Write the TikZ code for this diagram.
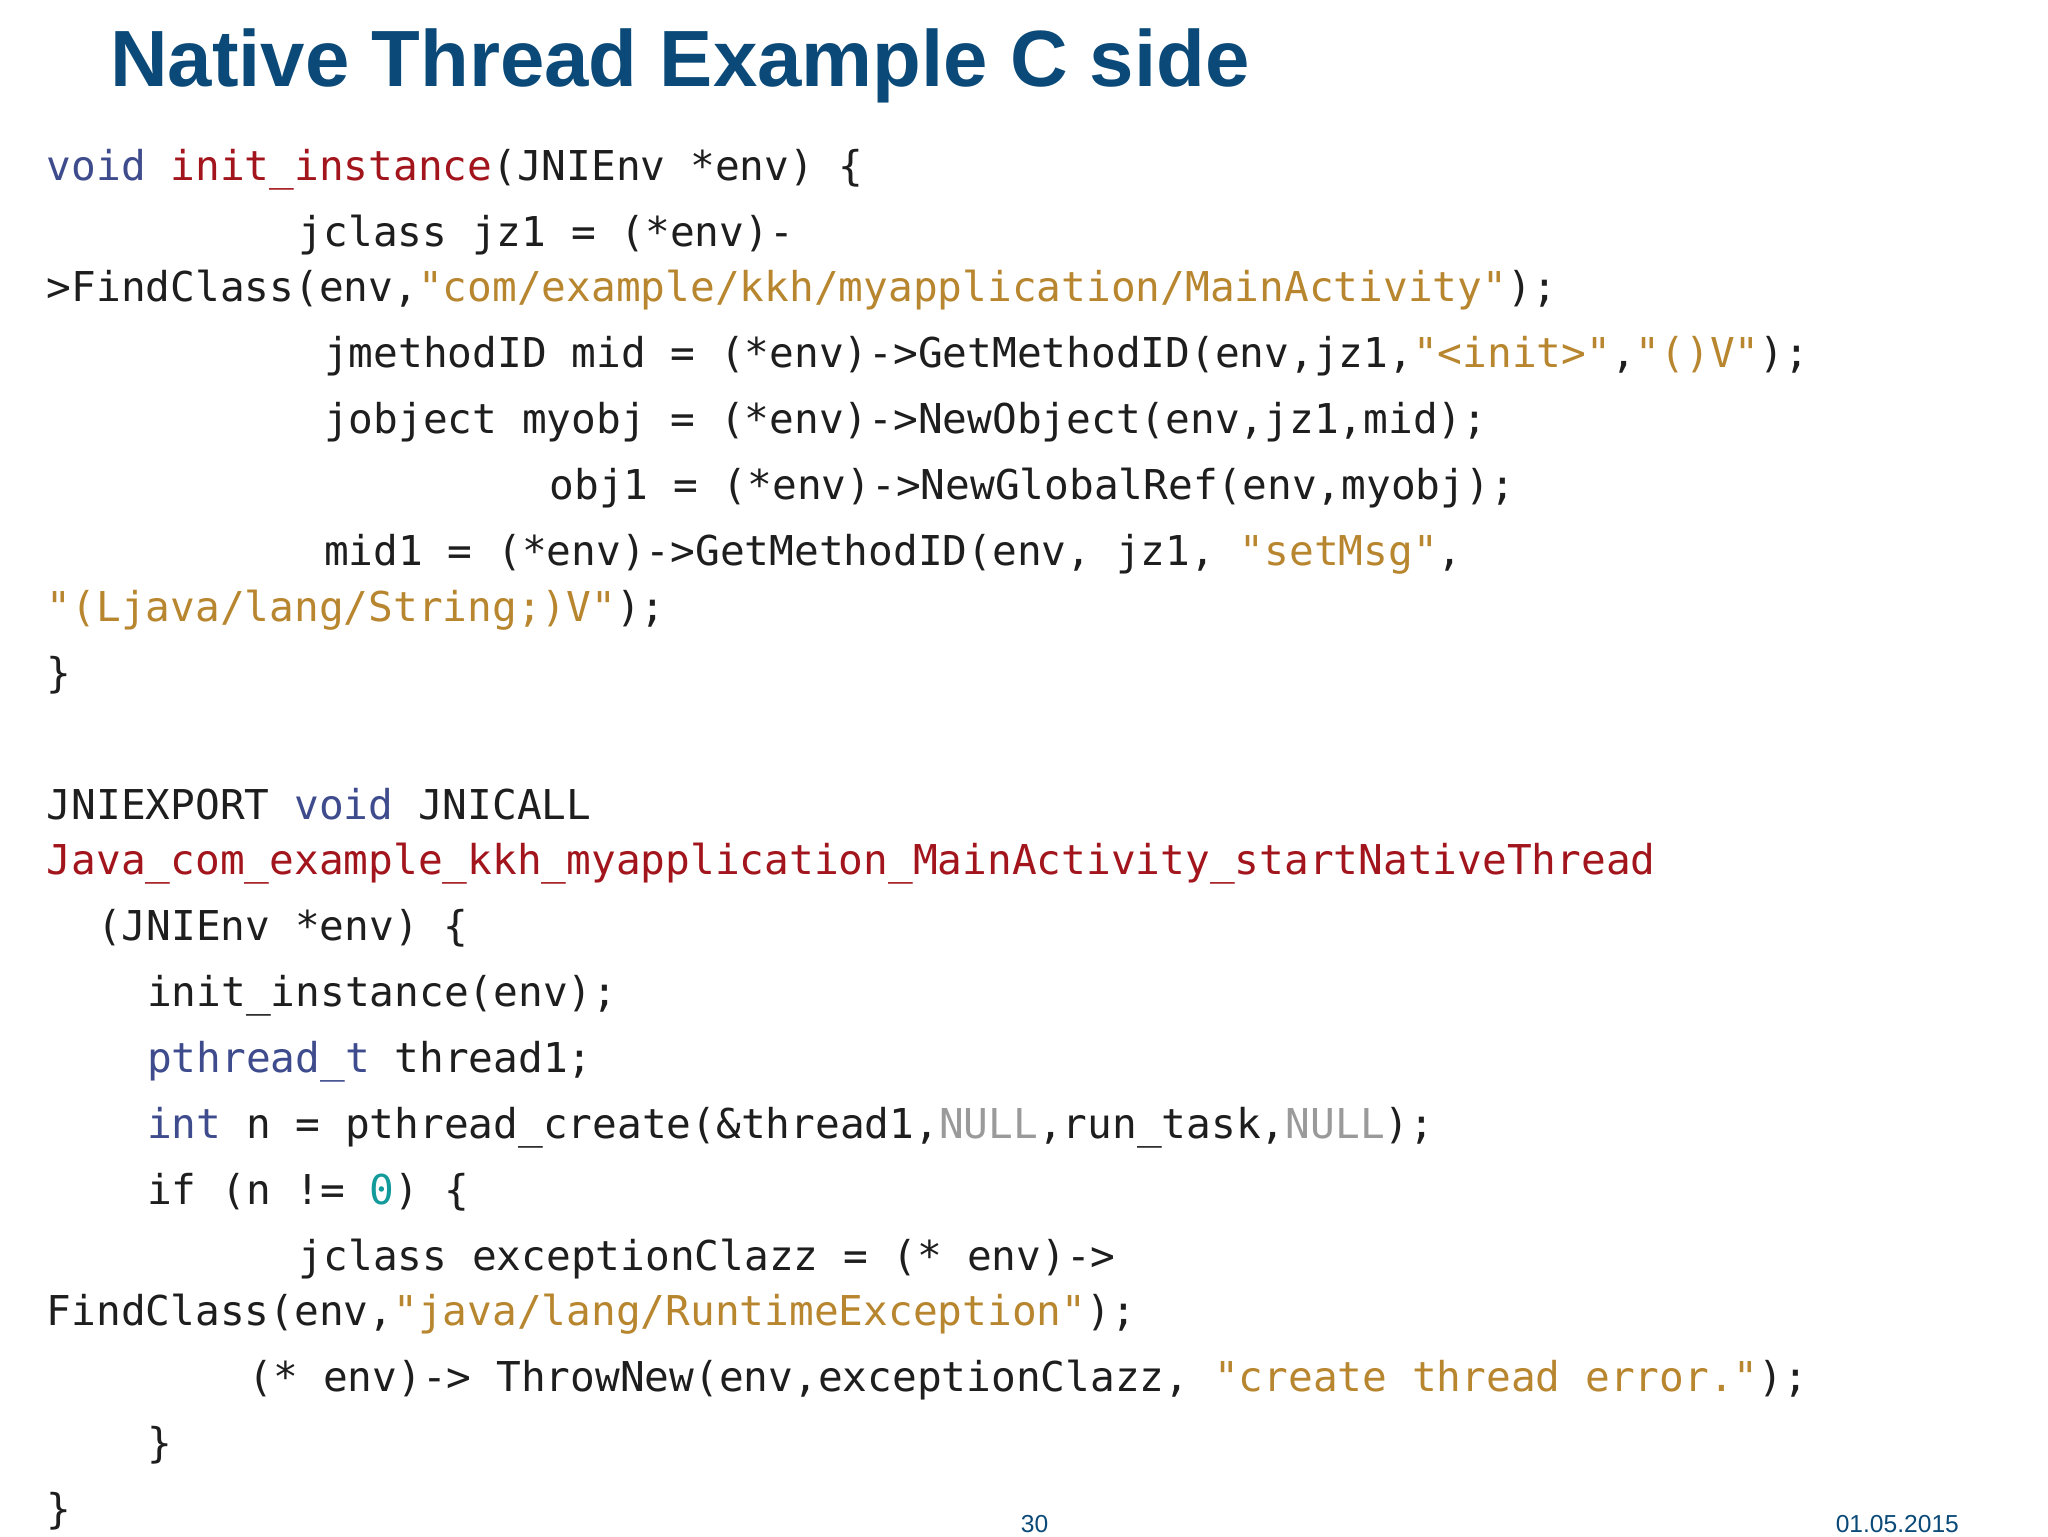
\documentclass[tikz,border=0pt]{standalone}
\usepackage{fontspec}
\newfontfamily\code{DejaVu Sans Mono}
\newfontfamily\titlefont{Liberation Sans}
\definecolor{kw}{HTML}{3E4B8C}
\definecolor{fn}{HTML}{A3151C}
\definecolor{st}{HTML}{B8862F}
\definecolor{nl}{HTML}{9A9A9A}
\definecolor{num}{HTML}{139A9A}
\definecolor{tx}{HTML}{1E1E1E}
\definecolor{ttl}{HTML}{0B4A78}
\newcommand{\K}[1]{\textcolor{kw}{#1}}
\newcommand{\F}[1]{\textcolor{fn}{#1}}
\newcommand{\Sg}[1]{\textcolor{st}{#1}}
\newcommand{\Nl}[1]{\textcolor{nl}{#1}}
\begin{document}
\begin{tikzpicture}[x=0.0132cm,y=-0.0132cm,
  cl/.style={anchor=west,inner sep=0pt,text height=0.75em,text depth=0.25em,font=\code\fontsize{11.7pt}{12pt}\selectfont,text=tx}]
\useasboundingbox (0,0) rectangle (1552,1164);
\fill[white] (0,0) rectangle (1552,1164);
\node[anchor=west,inner sep=0pt,font=\titlefont\bfseries\fontsize{22.7pt}{24pt}\selectfont,text=ttl] (title) at (83,50) {Native Thread Example C side};
\node[cl] (l1) at (35,130) {\K{void} \F{init\_instance}(JNIEnv *env) \{};
\node[cl] (l2) at (226,180) {jclass jz1 = (*env)-};
\node[cl] (l3) at (35,222) {>FindClass(env,\Sg{"com/example/kkh/myapplication/MainActivity"});};
\node[cl] (l4) at (245,272) {jmethodID mid = (*env)->GetMethodID(env,jz1,\Sg{"<init>"},\Sg{"()V"});};
\node[cl] (l5) at (245,322) {jobject myobj = (*env)->NewObject(env,jz1,mid);};
\node[cl] (l6) at (416,372) {obj1 = (*env)->NewGlobalRef(env,myobj);};
\node[cl] (l7) at (245,422) {mid1 = (*env)->GetMethodID(env, jz1, \Sg{"setMsg"},};
\node[cl] (l8) at (35,464) {\Sg{"(Ljava/lang/String;)V"});};
\node[cl] (l9) at (35,514) {\}};
\node[cl] (l10) at (35,614) {JNIEXPORT \K{void} JNICALL};
\node[cl] (l11) at (35,656) {\F{Java\_com\_example\_kkh\_myapplication\_MainActivity\_startNativeThread}};
\node[cl] (l12) at (73,706) {(JNIEnv *env) \{};
\node[cl] (l13) at (111,756) {init\_instance(env);};
\node[cl] (l14) at (111,806) {\K{pthread\_t} thread1;};
\node[cl] (l15) at (111,856) {\K{int} n = pthread\_create(\&thread1,\Nl{NULL},run\_task,\Nl{NULL});};
\node[cl] (l16) at (111,906) {if (n != \textcolor{num}{0}) \{};
\node[cl] (l17) at (226,956) {jclass exceptionClazz = (* env)->};
\node[cl] (l18) at (35,998) {FindClass(env,\Sg{"java/lang/RuntimeException"});};
\node[cl] (l19) at (188,1048) {(* env)-> ThrowNew(env,exceptionClazz, \Sg{"create thread error."});};
\node[cl] (l20) at (111,1098) {\}};
\node[cl] (l21) at (35,1148) {\}};
\node[inner sep=0pt,font=\titlefont\fontsize{7pt}{8pt}\selectfont,text=ttl] (pg) at (784,1155) {30};
\node[anchor=east,inner sep=0pt,font=\titlefont\fontsize{7pt}{8pt}\selectfont,text=ttl] (dt) at (1485,1155) {01.05.2015};
\end{tikzpicture}
\end{document}
